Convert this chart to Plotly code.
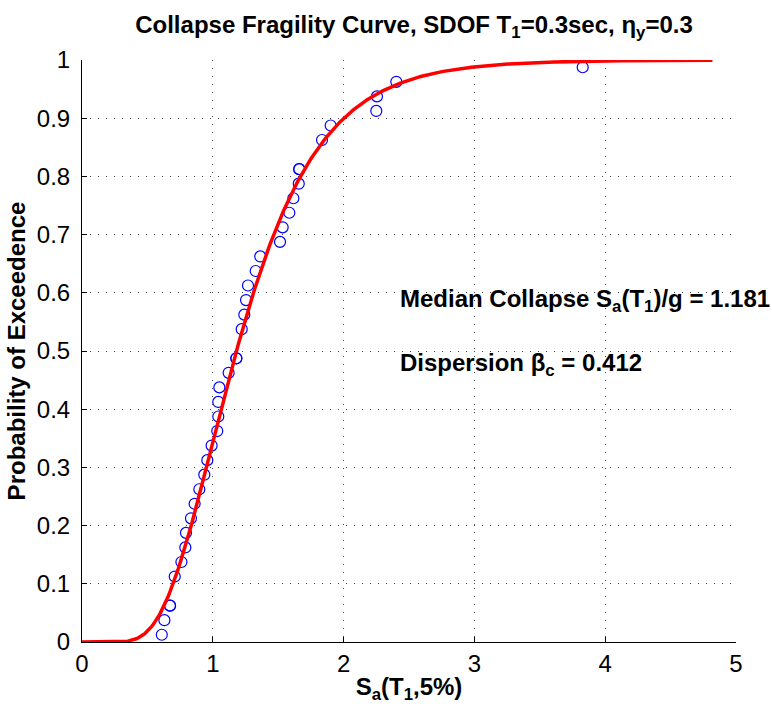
import math
import plotly.graph_objects as go

# Empirical collapse data (Sa at collapse, probability of exceedence)
sa_collapse = [0.61, 0.63, 0.673, 0.673, 0.709, 0.76, 0.79, 0.795, 0.833, 0.861,
               0.897, 0.935, 0.958, 0.991, 1.034, 1.042, 1.042, 1.05, 1.121, 1.18,
               1.18, 1.221, 1.241, 1.254, 1.269, 1.328, 1.363, 1.514, 1.534, 1.585,
               1.616, 1.657, 1.661, 1.661, 1.835, 1.901, 2.25, 2.255, 2.403, 3.828]
p_collapse = [0.0125, 0.0375, 0.0625, 0.0625, 0.1125, 0.1375, 0.1625, 0.1875, 0.2125, 0.2375,
              0.2625, 0.2875, 0.3125, 0.3375, 0.3625, 0.3875, 0.4125, 0.4375, 0.4625, 0.4875,
              0.4875, 0.5375, 0.5625, 0.5875, 0.6125, 0.6375, 0.6625, 0.6875, 0.7125, 0.7375,
              0.7625, 0.7875, 0.8125, 0.8125, 0.8625, 0.8875, 0.9125, 0.9375, 0.9625, 0.9875]

median_sa = 1.181
beta_c = 0.412
x_max_curve = 4.82

x_ticks = [0, 1, 2, 3, 4, 5]
y_ticks = [0, 0.1, 0.2, 0.3, 0.4, 0.5, 0.6, 0.7, 0.8, 0.9, 1]
y_tick_labels = ["0", "0.1", "0.2", "0.3", "0.4", "0.5", "0.6", "0.7", "0.8", "0.9", "1"]

# Fitted lognormal fragility curve
n = 500
curve_x = [x_max_curve * i / (n - 1) for i in range(n)]
def lognorm_cdf(x):
    if x <= 0:
        return 0.0
    return 0.5 * (1 + math.erf(math.log(x / median_sa) / (beta_c * math.sqrt(2))))
curve_y = [lognorm_cdf(x) for x in curve_x]

FONT = "Liberation Sans, Arial, Helvetica, sans-serif"
GRID = "#444444"

fig = go.Figure()
fig.add_trace(go.Scatter(
    x=sa_collapse, y=p_collapse, mode="markers",
    marker=dict(symbol="circle-open", size=11, color="#0000ff", line=dict(width=1.2, color="#0000ff")),
    showlegend=False, cliponaxis=False))
fig.add_trace(go.Scatter(
    x=curve_x, y=curve_y, mode="lines",
    line=dict(color="#ff0000", width=3.5),
    showlegend=False, cliponaxis=False))

fig.update_layout(
    width=772, height=706,
    margin=dict(l=82, r=36, t=60, b=64),
    paper_bgcolor="white", plot_bgcolor="white",
    font=dict(family=FONT, color="black", size=24),
    title=dict(text="<b>Collapse Fragility Curve, SDOF T<sub>1</sub>=0.3sec, η<sub>y</sub>=0.3</b>",
               x=414 / 772, xanchor="center", y=1 - 25 / 706, yanchor="middle",
               font=dict(size=24, family=FONT)),
    xaxis=dict(range=[0, 5], tickvals=x_ticks, ticktext=[str(t) for t in x_ticks],
               showline=True, linecolor="black", linewidth=1, mirror=False,
               ticks="inside", ticklen=5, tickcolor="black", automargin=False,
               showgrid=True, gridcolor=GRID, griddash="1px,7px", gridwidth=1,
               zeroline=False, tickfont=dict(size=24),
               title=dict(text="<b>S<sub>a</sub>(T<sub>1</sub>,5%)</b>", font=dict(size=24), standoff=2)),
    yaxis=dict(range=[0, 1], tickvals=y_ticks, ticktext=y_tick_labels,
               showline=True, linecolor="black", linewidth=1, mirror=False,
               ticks="inside", ticklen=5, tickcolor="black", ticklabelstandoff=6,
               automargin=False,
               showgrid=True, gridcolor=GRID, griddash="1px,7px", gridwidth=1,
               zeroline=False, tickfont=dict(size=24),
               title=dict(text="<b>Probability of Exceedence</b>", font=dict(size=24), standoff=4)),
    annotations=[
        dict(x=2.416, y=0.587, xref="x", yref="y", xanchor="left", yanchor="middle",
             text="<b>Median Collapse S<sub>a</sub>(T<sub>1</sub>)/g = 1.181</b>",
             showarrow=False, font=dict(size=24, family=FONT)),
        dict(x=2.416, y=0.476, xref="x", yref="y", xanchor="left", yanchor="middle",
             text="<b>Dispersion β<sub>c</sub> = 0.412</b>",
             showarrow=False, font=dict(size=24, family=FONT)),
    ],
)

fig.write_html("out.html")
